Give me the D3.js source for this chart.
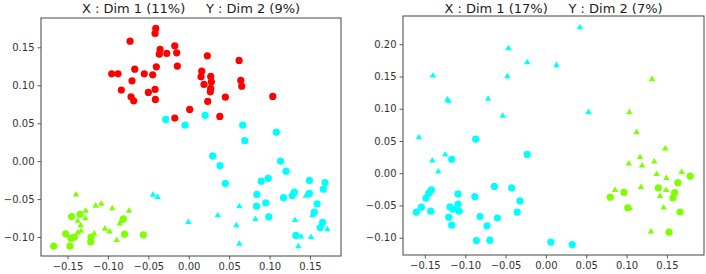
<!DOCTYPE html>
<html><head><meta charset="utf-8">
<script src="https://cdn.jsdelivr.net/npm/d3@7"></script>
<style>body{margin:0;background:#fff}svg{display:block}text{font-family:"DejaVu Sans",sans-serif}</style>
</head><body><svg id="c" width="706" height="274"></svg>
<script>
// ---- Panel A (left) ----
const titleA = "X : Dim 1 (11%)     Y : Dim 2 (9%)";
const ticksAX = [-0.15,-0.10,-0.05,0.00,0.05,0.10,0.15];
const ticksAY = [-0.10,-0.05,0.00,0.05,0.10,0.15];
const redCircA = [[-0.0408,0.1749],[-0.0417,0.1683],[-0.0726,0.1581],[-0.0355,0.1472],[-0.0364,0.1410],[-0.0272,0.1419],[-0.0173,0.1520],[-0.0149,0.1427],[-0.0141,0.1252],[-0.0401,0.1243],[-0.0668,0.1212],[-0.0953,0.1151],[-0.0875,0.1151],[-0.0550,0.1151],[-0.0446,0.1137],[-0.0702,0.1058],[-0.0834,0.0936],[-0.0500,0.0905],[-0.0417,0.0945],[-0.0714,0.0847],[-0.0681,0.0795],[-0.0413,0.0813],[0.0230,0.1388],[0.0161,0.1186],[0.0152,0.1111],[0.0272,0.1116],[0.0280,0.1045],[0.0189,0.1011],[0.0272,0.0958],[0.0267,0.0913],[0.0235,0.0787],[0.0453,0.0843],[0.0623,0.1327],[0.0644,0.1064],[0.0656,0.0988],[0.1040,0.0853],[0.0012,0.0681],[-0.0173,0.0567],[0.0384,0.0589]];
const cyanCircA = [[-0.0285,0.0550],[-0.0046,0.0474],[0.0202,0.0602],[0.0668,0.0474],[0.1084,0.0382],[0.0693,0.0270],[0.0297,0.0069],[0.0387,-0.0059],[0.0453,-0.0294],[0.1136,0.0000],[0.1204,-0.0132],[0.0897,-0.0264],[0.0984,-0.0227],[0.1493,-0.0254],[0.1687,-0.0283],[0.1666,-0.0369],[0.1307,-0.0409],[0.1281,-0.0455],[0.1173,-0.0481],[0.1493,-0.0426],[0.0843,-0.0439],[0.0953,-0.0550],[0.0839,-0.0593],[0.0991,-0.0735],[0.1588,-0.0564],[0.1553,-0.0672],[0.1656,-0.0808],[0.1627,-0.0876],[0.1325,-0.0979]];
const cyanTriA = [[-0.0442,-0.0444],[-0.0384,-0.0474],[-0.0005,-0.0804],[0.0359,-0.0716],[0.0626,-0.0597],[0.0824,-0.0764],[0.0589,-0.0847],[0.0626,-0.1090],[0.1316,-0.0778],[0.1452,-0.0457],[0.1530,-0.0716],[0.1390,-0.0995],[0.1514,-0.1002],[0.1356,-0.1124],[0.1715,-0.0900]];
const greenTriA = [[-0.1395,-0.0441],[-0.1275,-0.0655],[-0.1151,-0.0589],[-0.1082,-0.0563],[-0.0946,-0.0623],[-0.0739,-0.0655],[-0.1374,-0.0787],[-0.1280,-0.0755],[-0.1337,-0.0847],[-0.1333,-0.0919],[-0.1374,-0.0942],[-0.1036,-0.0892],[-0.0980,-0.0929],[-0.1170,-0.0955],[-0.0854,-0.0824],[-0.0891,-0.1041],[-0.0838,-0.0791]];
const greenCircA = [[-0.1450,-0.0731],[-0.1345,-0.0701],[-0.0809,-0.0762],[-0.1522,-0.0958],[-0.1457,-0.1019],[-0.1416,-0.1002],[-0.1209,-0.1002],[-0.1213,-0.1064],[-0.0795,-0.0962],[-0.0562,-0.0971],[-0.1671,-0.1120],[-0.1469,-0.1120]];

// ---- Panel B (right) ----
const titleB = "X : Dim 1 (17%)     Y : Dim 2 (7%)";
const ticksBX = [-0.15,-0.10,-0.05,0.00,0.05,0.10,0.15];
const ticksBY = [-0.10,-0.05,0.00,0.05,0.10,0.15,0.20];
const cyanTriB = [[0.0422,0.2261],[-0.0464,0.1936],[-0.0232,0.1719],[0.0132,0.1673],[-0.1399,0.1512],[-0.0477,0.1502],[-0.1221,0.1140],[-0.1204,0.1120],[-0.0716,0.1151],[-0.0534,0.0888],[0.0529,0.0945],[-0.1573,0.0554],[-0.1248,0.0287],[-0.1408,0.0194],[-0.1333,0.0025]];
const cyanCircB = [[-0.0869,0.0528],[-0.0232,0.0291],[-0.1167,0.0217],[-0.0638,-0.0204],[-0.0425,-0.0228],[-0.0321,-0.0429],[-0.0356,-0.0604],[-0.0601,-0.0695],[-0.0729,-0.0816],[-0.0816,-0.0672],[-0.0881,-0.0362],[-0.1089,-0.0321],[-0.1089,-0.0480],[-0.1076,-0.0589],[-0.1151,-0.0558],[-0.1188,-0.0522],[-0.1204,-0.0682],[-0.1167,-0.0805],[-0.0861,-0.1044],[-0.0695,-0.1038],[0.0062,-0.1069],[0.0326,-0.1106],[-0.1420,-0.0259],[-0.1452,-0.0310],[-0.1486,-0.0387],[-0.1544,-0.0527],[-0.1606,-0.0604],[-0.1428,-0.0589]];
const greenTriB = [[0.1316,0.1456],[0.1034,0.0945],[0.1125,0.0635],[0.1481,0.0381],[0.1167,0.0248],[0.1344,0.0180],[0.1028,0.0147],[0.1192,0.0118],[0.1683,0.0015],[0.1373,-0.0015],[0.1493,-0.0076],[0.1179,-0.0217],[0.0857,-0.0262],[0.1490,-0.0263],[0.1415,-0.0356],[0.1460,-0.0533],[0.1040,-0.0541],[0.1303,-0.0906]];
const greenCircB = [[0.1789,-0.0046],[0.1636,-0.0146],[0.1394,-0.0228],[0.1596,-0.0302],[0.1576,-0.0383],[0.0968,-0.0297],[0.0798,-0.0372],[0.1015,-0.0537],[0.1663,-0.0603],[0.1527,-0.0914]];

const RED = "#ff0000", CYAN = "#00ffff", GREEN = "#7fff00";
const svg = d3.select("#c");

function panel(o) {
  const x = d3.scaleLinear().domain(o.xd).range([o.left, o.right]);
  const y = d3.scaleLinear().domain(o.yd).range([o.bottom, o.top]);
  const g = svg.append("g");
  const fmt = d3.format(".2f");
  const fmtm = v => fmt(v).replace("-", "\u2212");
  const ax = g.append("g").attr("transform", `translate(0,${o.bottom})`)
    .call(d3.axisBottom(x).tickValues(o.tx).tickFormat(fmtm).tickSize(3.5).tickPadding(3));
  const ay = g.append("g").attr("transform", `translate(${o.left},0)`)
    .call(d3.axisLeft(y).tickValues(o.ty).tickFormat(fmtm).tickSize(3.5).tickPadding(3));
  [ax, ay].forEach(a => {
    a.select(".domain").remove();
    a.selectAll("line").attr("stroke", "#333").attr("stroke-width", 0.8);
    a.selectAll("text").attr("font-size", 10).attr("fill", "#333").attr("font-family", "DejaVu Sans");
  });
  const tri = d3.symbol().type(d3.symbolTriangle).size(18);
  const drawC = (data, col) => g.append("g").selectAll("circle").data(data).join("circle")
    .attr("cx", d => x(d[0])).attr("cy", d => y(d[1])).attr("r", 3.6).attr("fill", col);
  const drawT = (data, col) => g.append("g").selectAll("path").data(data).join("path")
    .attr("d", tri).attr("transform", d => `translate(${x(d[0])},${y(d[1])})`).attr("fill", col);
  o.series.forEach(s => s.t ? drawT(s.d, s.c) : drawC(s.d, s.c));
  g.append("rect").attr("x", o.left).attr("y", o.top).attr("width", o.right - o.left).attr("height", o.bottom - o.top)
    .attr("fill", "none").attr("stroke", "#444").attr("stroke-width", 1);
  g.append("text").attr("x", (o.left + o.right) / 2).attr("y", 12.5).attr("text-anchor", "middle")
    .attr("font-size", 13).attr("fill", "#222").style("white-space", "pre").text(o.title);
}

panel({left: 41, right: 341, top: 18, bottom: 256, xd: [-0.1828, 0.1884], yd: [-0.125, 0.1886],
  tx: ticksAX, ty: ticksAY, title: titleA,
  series: [{d: redCircA, c: RED}, {d: cyanCircA, c: CYAN}, {d: cyanTriA, c: CYAN, t: 1}, {d: greenTriA, c: GREEN, t: 1}, {d: greenCircA, c: GREEN}]});
panel({left: 403, right: 704, top: 16, bottom: 255, xd: [-0.1771, 0.196], yd: [-0.1268, 0.2438],
  tx: ticksBX, ty: ticksBY, title: titleB,
  series: [{d: cyanTriB, c: CYAN, t: 1}, {d: cyanCircB, c: CYAN}, {d: greenTriB, c: GREEN, t: 1}, {d: greenCircB, c: GREEN}]});
</script></body></html>
